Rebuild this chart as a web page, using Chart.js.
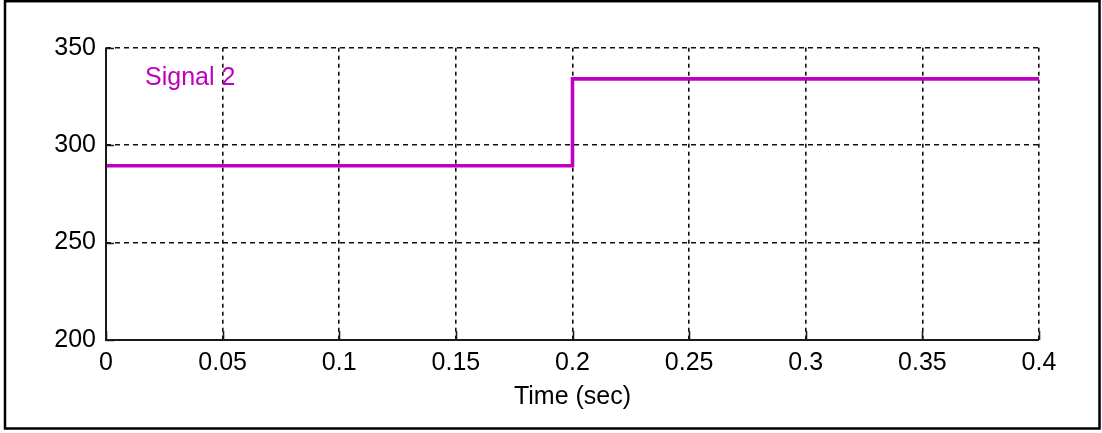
<!DOCTYPE html>
<html>
<head>
<meta charset="utf-8">
<script src="https://cdn.jsdelivr.net/npm/chart.js@4/dist/chart.umd.min.js"></script>
<style>
  html, body { margin: 0; padding: 0; background: #fff; }
  canvas { display: block; }
</style>
</head>
<body>
<canvas id="signalChart" width="1102" height="433" style="width:1102px;height:433px"></canvas>
<script>
// data
const time = [0, 0.2, 0.2, 0.4];
const signal2 = [289.4, 289.4, 334, 334];
const yTicks = [200, 250, 300, 350];
const xTicks = [0, 0.05, 0.1, 0.15, 0.2, 0.25, 0.3, 0.35, 0.4];
const seriesLabel = 'Signal 2';
const xTitle = 'Time (sec)';

const FONT = "'Liberation Sans', Arial, sans-serif";
const MAGENTA = '#c000c0';

// solid left/bottom axes, inward tick marks, signal label, outer frame
const decorPlugin = {
    id: 'decor',
    afterDatasetsDraw(chart) {
        const ctx = chart.ctx;
        const area = chart.chartArea;
        const xs = chart.scales.x;
        const ys = chart.scales.y;
        ctx.save();
        ctx.strokeStyle = '#1a1a1a';
        ctx.setLineDash([]);
        ctx.lineWidth = 2;
        ctx.beginPath();
        ctx.moveTo(area.left, area.top);
        ctx.lineTo(area.left, area.bottom);
        ctx.lineTo(area.right, area.bottom);
        ctx.stroke();

        ctx.lineWidth = 1.6;
        ctx.beginPath();
        xTicks.forEach(function(t) {
            const px = Math.round(xs.getPixelForValue(t)) + 0.5;
            ctx.moveTo(px, area.bottom);
            ctx.lineTo(px, area.bottom - 9);
        });
        yTicks.forEach(function(t) {
            const py = Math.round(ys.getPixelForValue(t)) + 0.5;
            ctx.moveTo(area.left, py);
            ctx.lineTo(area.left + 8, py);
        });
        ctx.stroke();

        // signal name
        ctx.fillStyle = MAGENTA;
        ctx.font = '25px ' + FONT;
        ctx.textBaseline = 'middle';
        ctx.textAlign = 'left';
        ctx.fillText(seriesLabel, 145, 78);

        // outer frame
        ctx.strokeStyle = '#000';
        ctx.lineWidth = 2.5;
        ctx.strokeRect(5, 1.2, 1094.5, 427.3);
        ctx.restore();
    }
};

new Chart(document.getElementById('signalChart').getContext('2d'), {
    type: 'line',
    data: {
        datasets: [{
            label: seriesLabel,
            data: time.map((t, i) => ({ x: t, y: signal2[i] })),
            borderColor: MAGENTA,
            borderWidth: 3.6,
            pointRadius: 0,
            tension: 0,
            fill: false
        }]
    },
    options: {
        responsive: false,
        animation: false,
        layout: { padding: { top: 47.7, right: 63, left: 0, bottom: 0 } },
        plugins: {
            legend: { display: false },
            tooltip: { enabled: false }
        },
        scales: {
            x: {
                type: 'linear',
                min: 0,
                max: 0.4,
                afterFit: function(scale) { scale.height = 93; },
                afterBuildTicks: function(scale) {
                    scale.ticks = xTicks.map(v => ({ value: v }));
                },
                ticks: {
                    color: '#000',
                    font: { family: FONT, size: 25 },
                    padding: 8,
                    maxRotation: 0,
                    autoSkip: false,
                    callback: v => String(Number(v.toFixed(2)))
                },
                grid: { color: '#111', lineWidth: 1.6, drawTicks: false },
                border: { display: false, dash: [4, 4] },
                title: {
                    display: true,
                    text: xTitle,
                    color: '#000',
                    font: { family: FONT, size: 25 },
                    padding: { top: 0, bottom: 21 }
                }
            },
            y: {
                min: 200,
                max: 350,
                afterFit: function(scale) { scale.width = 106; },
                afterBuildTicks: function(scale) {
                    scale.ticks = yTicks.map(v => ({ value: v }));
                },
                ticks: {
                    color: '#000',
                    font: { family: FONT, size: 25 },
                    padding: 10
                },
                grid: { color: '#111', lineWidth: 1.6, drawTicks: false },
                border: { display: false, dash: [5, 4] }
            }
        }
    },
    plugins: [decorPlugin]
});
</script>
</body>
</html>
